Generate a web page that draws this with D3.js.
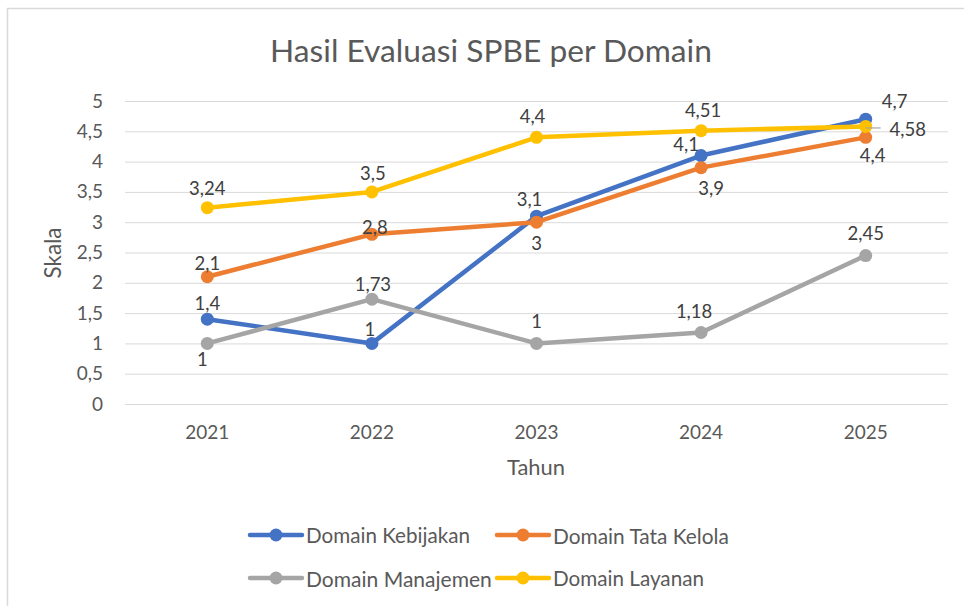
<!DOCTYPE html>
<html>
<head>
<meta charset="utf-8">
<script src="https://cdn.jsdelivr.net/npm/d3@7"></script>
<style>
  html, body { margin: 0; padding: 0; background: #fff; }
  svg { display: block; }
  text { font-family: Lato, "Open Sans", sans-serif; }
</style>
</head>
<body>
<svg id="chart" width="964" height="606"></svg>
<script>
// ---- data ----
const years = ["2021", "2022", "2023", "2024", "2025"];
const kebijakan = [1.4, 1, 3.1, 4.1, 4.7];
const tataKelola = [2.1, 2.8, 3, 3.9, 4.4];
const manajemen = [1, 1.73, 1, 1.18, 2.45];
const layanan = [3.24, 3.5, 4.4, 4.51, 4.58];
const yTicks = [0, 0.5, 1, 1.5, 2, 2.5, 3, 3.5, 4, 4.5, 5];
const seriesNames = ["Domain Kebijakan", "Domain Tata Kelola", "Domain Manajemen", "Domain Layanan"];

// ---- styling / placement ----
const colors = ["#4472C4", "#ED7D31", "#A5A5A5", "#FFC000"];
// label offsets (dx, dy) of label centre relative to point
const labelOffsets = [
  [[0,-16],[-2,-14],[-7,-17],[-15,-12],[29,-18]],
  [[0,-14],[3,-7],[0,21],[10,20],[7,18]],
  [[-5,16],[1,-15],[0,-22],[-7,-21],[0,-23]],
  [[0,-20],[1,-19],[-4,-21],[2,-21],[42,3]]
];

const series = [kebijakan, tataKelola, manajemen, layanan].map((vals, i) => ({
  name: seriesNames[i], color: colors[i], values: vals
}));

const svg = d3.select("#chart");
const fmt = v => String(v).replace(".", ",");
const textColor = "#595959";

function fitWidth(sel, target) {
  const w = sel.node().getComputedTextLength();
  const fs = parseFloat(sel.attr("font-size"));
  sel.attr("font-size", fs * target / w);
}

// outer border
svg.append("path")
  .attr("d", "M7.5,606 L7.5,8.5 L964,8.5")
  .attr("fill", "none").attr("stroke", "#d9d9d9").attr("stroke-width", 1.5);

const x = d3.scaleBand().domain(years).range([125, 948]);
const y = d3.scaleLinear().domain([0, 5]).range([404, 101]);

// gridlines
const yAxis = d3.axisLeft(y).tickValues(yTicks).tickSize(-(948 - 125)).tickFormat(fmt).tickPadding(22);
const gy = svg.append("g").attr("transform", "translate(125,0)").call(yAxis);
gy.select(".domain").remove();
gy.selectAll(".tick line").attr("stroke", "#d9d9d9").attr("stroke-width", 1);
gy.selectAll(".tick text").attr("fill", textColor).attr("font-size", 19)
  .style("font-family", "Lato, 'Open Sans', sans-serif");

const xAxis = d3.axisBottom(x).tickSize(0).tickPadding(22);
const gx = svg.append("g").attr("transform", "translate(0,404)").call(xAxis);
gx.select(".domain").remove();
gx.selectAll(".tick text").attr("fill", textColor).attr("font-size", 19)
  .style("font-family", "Lato, 'Open Sans', sans-serif");

// title
const title = svg.append("text").attr("x", 491).attr("y", 62).attr("text-anchor", "middle")
  .attr("font-size", 30).attr("fill", textColor).text("Hasil Evaluasi SPBE per Domain");
fitWidth(title, 442);

// axis titles
const xt = svg.append("text").attr("x", 536).attr("y", 475).attr("text-anchor", "middle")
  .attr("font-size", 19).attr("fill", textColor).text("Tahun");
fitWidth(xt, 58);
const yt = svg.append("text").attr("transform", "translate(61,253) rotate(-90)").attr("text-anchor", "middle")
  .attr("font-size", 19).attr("fill", textColor).text("Skala");
fitWidth(yt, 51);

// lines
const line = d3.line().x((d, i) => x(years[i]) + x.bandwidth() / 2).y(d => y(d));
const gs = svg.append("g").selectAll("g").data(series).join("g");
gs.append("path").attr("d", d => line(d.values)).attr("fill", "none")
  .attr("stroke", d => d.color).attr("stroke-width", 4.5)
  .attr("stroke-linejoin", "round").attr("stroke-linecap", "round");
gs.selectAll("circle").data(d => d.values.map(v => ({ v, c: d.color })))
  .join("circle")
  .attr("cx", (d, i) => x(years[i]) + x.bandwidth() / 2)
  .attr("cy", d => y(d.v)).attr("r", 6.5).attr("fill", d => d.c);

// leader line for Layanan 2025
svg.append("line")
  .attr("x1", x("2025") + x.bandwidth() / 2).attr("x2", x("2025") + x.bandwidth() / 2 + 15)
  .attr("y1", y(layanan[4]) + 1.5).attr("y2", y(layanan[4]) + 1.5)
  .attr("stroke", "#a6a6a6").attr("stroke-width", 1.2);

// data labels
const lg = svg.append("g");
series.forEach((s, si) => {
  s.values.forEach((v, i) => {
    const [dx, dy] = labelOffsets[si][i];
    lg.append("text")
      .attr("x", x(years[i]) + x.bandwidth() / 2 + dx)
      .attr("y", y(v) + dy)
      .attr("text-anchor", "middle").attr("dominant-baseline", "central")
      .attr("font-size", 18.5).attr("fill", "#404040").text(fmt(v));
  });
});

// legend
const legendPos = [[250, 535, 164], [497, 535, 176], [250, 578, 186], [497, 578, 151]];
series.forEach((s, i) => {
  const [lx, ly, tw] = legendPos[i];
  const g = svg.append("g");
  g.append("line").attr("x1", lx).attr("x2", lx + 52).attr("y1", ly).attr("y2", ly)
    .attr("stroke", s.color).attr("stroke-width", 4.5).attr("stroke-linecap", "round");
  g.append("circle").attr("cx", lx + 26).attr("cy", ly).attr("r", 6.5).attr("fill", s.color);
  const t = g.append("text").attr("x", lx + 56).attr("y", ly).attr("dominant-baseline", "central")
    .attr("font-size", 18).attr("fill", textColor).text(s.name);
  fitWidth(t, tw);
});
</script>
</body>
</html>
